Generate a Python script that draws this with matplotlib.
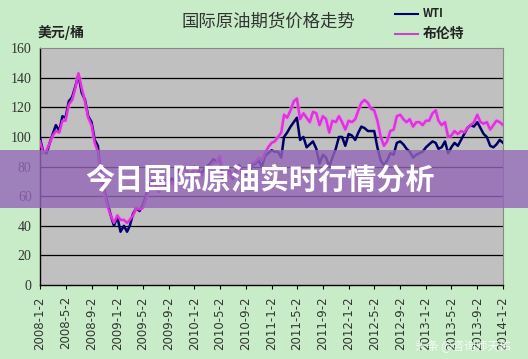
import numpy as np
import pandas as pd
import matplotlib
matplotlib.use("Agg")
import matplotlib.pyplot as plt
from matplotlib.patches import Rectangle

plt.rcParams['font.family'] = ['Noto Sans CJK SC', 'DejaVu Sans']

# semi-monthly samples, 2008-01-02 .. 2014-01-02
dates = pd.to_datetime([f"{y}-{m}-{d}" for y in range(2008, 2014) for m in range(1, 13) for d in (2, 17)] + ["2014-1-2"])

wti = [99, 90, 89, 96, 102, 108, 104, 114, 113, 124, 127, 134, 142, 130, 125, 114, 110, 98, 94, 72, 64, 55, 47, 40,
       46, 36, 40, 36, 40, 48, 52, 50, 54, 60, 68, 70, 67, 63, 70, 67, 68, 72, 70, 78, 79, 79, 76, 72,
       80, 78, 75, 78, 80, 82, 85, 83, 86, 72, 73, 77, 72, 77, 81, 75, 75, 74, 81, 82, 84, 80, 87, 89,
       91, 90, 90, 86, 100, 103, 107, 110, 113, 98, 100, 93, 95, 97, 92, 82, 88, 86, 80, 86, 92, 100, 100, 94,
       102, 101, 98, 103, 107, 106, 104, 104, 104, 93, 84, 81, 84, 89, 88, 96, 97, 95, 92, 90, 86, 88, 89, 90,
       93, 95, 97, 96, 92, 93, 97, 89, 93, 96, 94, 98, 102, 106, 108, 107, 110, 106, 102, 100, 94, 93, 95, 98,
       96]
brent = [97, 89, 91, 96, 101, 104, 103, 111, 111, 122, 125, 133, 143, 133, 124, 113, 108, 96, 90, 70, 62, 53, 47, 42,
         47, 44, 44, 42, 44, 47, 52, 51, 52, 58, 65, 69, 66, 63, 70, 71, 68, 69, 68, 75, 77, 78, 76, 74,
         79, 77, 74, 75, 78, 80, 83, 83, 87, 76, 72, 76, 73, 76, 80, 74, 77, 78, 82, 83, 86, 84, 89, 93,
         96, 97, 100, 103, 115, 113, 118, 124, 126, 112, 116, 113, 110, 117, 116, 108, 114, 112, 103, 111, 110, 114, 110, 105,
         111, 110, 112, 118, 123, 125, 123, 119, 118, 111, 100, 94, 97, 104, 105, 114, 115, 112, 110, 112, 107, 110, 110, 108,
         111, 111, 116, 118, 111, 108, 110, 100, 101, 104, 102, 104, 103, 106, 108, 110, 115, 110, 109, 110, 105, 108, 111, 110,
         108]

tick_labels = ["2008-1-2", "2008-5-2", "2008-9-2", "2009-1-2", "2009-5-2", "2009-9-2", "2010-1-2",
               "2010-5-2", "2010-9-2", "2011-1-2", "2011-5-2", "2011-9-2", "2012-1-2", "2012-5-2",
               "2012-9-2", "2013-1-2", "2013-5-2", "2013-9-2", "2014-1-2"]
yticks = [0, 20, 40, 60, 80, 100, 120, 140, 160]

bg = '#c8ecc8'
fig = plt.figure(figsize=(5.28, 3.59), dpi=100, facecolor=bg)
ax = fig.add_axes([0.0758, 0.206, 0.877, 0.66])
ax.set_facecolor('#c0c0c0')

for v in yticks[1:-1]:
    ax.axhline(v, color='black', lw=0.9, zorder=1)

ax.plot(dates, brent, color='#f090f0', lw=3.5, alpha=0.5, zorder=2)
ax.plot(dates, wti, color='#000066', lw=1.8, zorder=3)
ax.plot(dates, brent, color='#dd33dd', lw=1.8, zorder=4)

ax.set_xlim(dates[0], dates[-1])
ax.set_ylim(0, 160)
ax.set_yticks(yticks)
ax.set_yticklabels([str(v) for v in yticks], family='Liberation Serif', fontsize=10, color='#333333')
ax.set_xticks(pd.to_datetime(tick_labels))
ax.set_xticklabels(tick_labels, rotation=90, fontsize=8.5, family='DejaVu Sans', color='#333333')
ax.tick_params(axis='y', length=0, pad=6)
ax.tick_params(axis='x', length=3, direction='out', color='black', pad=5)
for s in ['top', 'right']:
    ax.spines[s].set_color('#888888')
    ax.spines[s].set_linewidth(0.8)
for s in ['left', 'bottom']:
    ax.spines[s].set_color('black')
    ax.spines[s].set_linewidth(1.0)

fig.text(0.508, 0.94, "国际原油期货价格走势", ha='center', va='center', fontsize=12.5, color='#333333')
fig.text(0.072, 0.91, "美元/桶", ha='left', va='center', fontsize=10, fontweight='bold', color='#222222')

# legend
fig.lines.append(plt.Line2D([0.748, 0.792], [0.962, 0.962], color='#000066', lw=1.5, transform=fig.transFigure))
fig.lines.append(plt.Line2D([0.748, 0.792], [0.905, 0.905], color='#cc44cc', lw=1.5, transform=fig.transFigure))
fig.text(0.80, 0.962, "WTI", ha='left', va='center', fontsize=8, fontweight='bold', color='#222222')
fig.text(0.80, 0.905, "布伦特", ha='left', va='center', fontsize=10, fontweight='bold', color='#222222')

# banner overlay
fig.patches.append(Rectangle((0, 0.42), 1, 0.162, transform=fig.transFigure,
                             facecolor='#9466b8', alpha=0.8, zorder=10))
fig.text(0.492, 0.5, "今日国际原油实时行情分析", ha='center', va='center', fontsize=21,
         fontweight='bold', color='white', zorder=11)

fig.text(0.968, 0.035, "头条 @咨询师天佑", ha='right', va='center', fontsize=8.5,
         color='#ffffff', alpha=0.8, zorder=11)

fig.savefig("out.png", dpi=100, facecolor=bg)
